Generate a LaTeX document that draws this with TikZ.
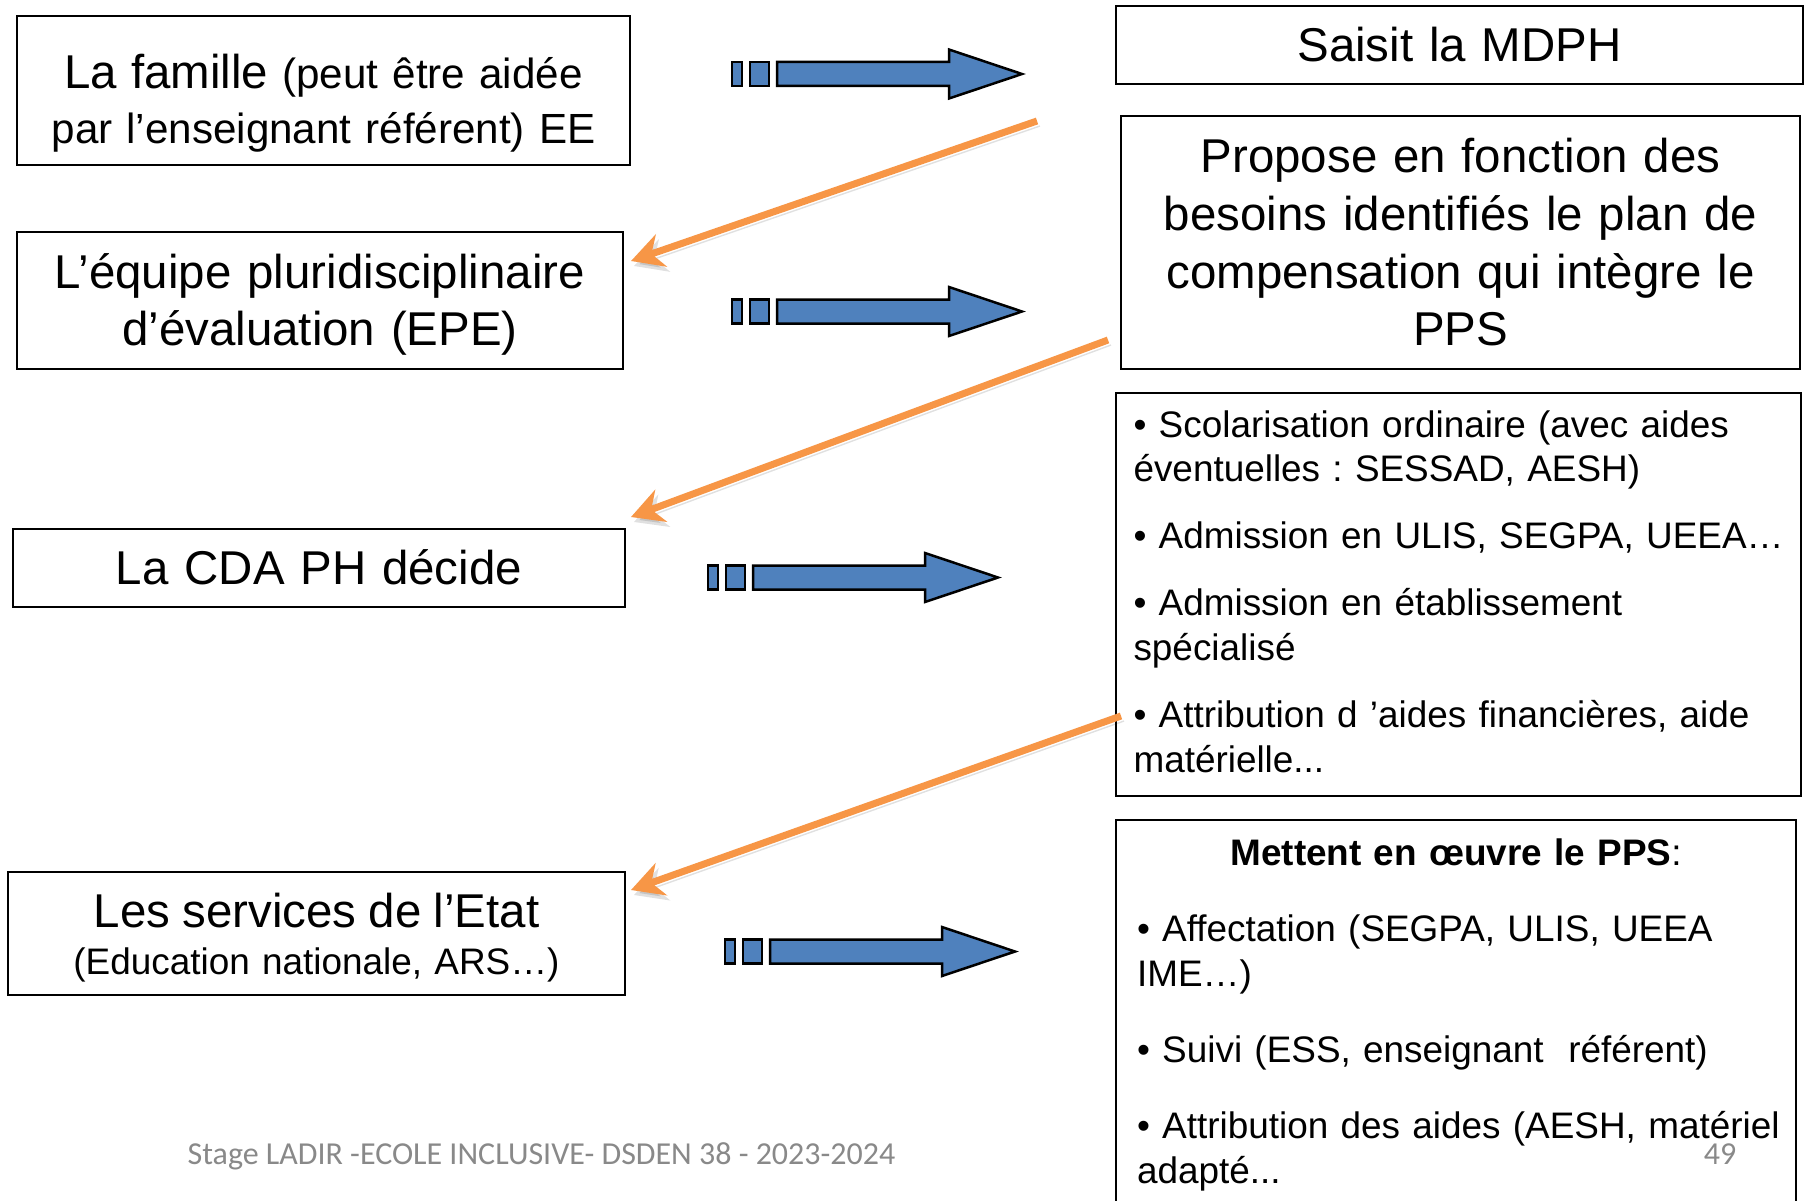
\documentclass[tikz,border=0pt]{standalone}
\usepackage{fontspec}
\setmainfont{Liberation Sans}
\newfontfamily\piedfont{Carlito}
\frenchspacing
\usetikzlibrary{arrows.meta,calc}
\definecolor{bleuflech}{RGB}{79,129,189}
\definecolor{orangeflech}{RGB}{247,150,70}
\definecolor{grispied}{RGB}{137,137,137}
\tikzset{
  boite/.style={draw, line width=0.2mm, anchor=north west, inner ysep=0pt, outer sep=0pt},
  grand/.style={boite, align=center, inner xsep=1mm, font=\fontsize{13.5}{16.4}\selectfont},
  liste/.style={boite, align=left, font=\fontsize{10.5}{12.8}\selectfont},
  bleu/.style={fill=bleuflech, draw=black, line width=0.25mm},
  fleche/.style={draw=orangeflech, line width=0.7mm, -{Stealth[length=3.2mm,width=3.4mm]},
    preaction={draw=black, opacity=0.12, transform canvas={shift={(0.3mm,-0.5mm)}}}},
  pied/.style={text=grispied, font=\piedfont\fontsize{9.1}{10.9}\selectfont, inner sep=0pt}
}
\begin{document}
\begin{tikzpicture}[x=0.1mm, y=-0.1mm]
        % 背景
        \fill[white] (0,0) rectangle (1806,1200);
        \useasboundingbox (0,0) rectangle (1806,1200);
        % 左の箱
        \node[grand, text width=59.3mm, text height=7.3mm, text depth=7.6mm, font=\fontsize{12}{15.6}\selectfont] (famille) at (17,16)
          {{\fontsize{13.5}{15.6}\selectfont La famille}\ (peut être aidée\\par l’enseignant référent) EE};
        \node[grand, text width=58.6mm, text height=5.6mm, text depth=8.1mm] (equipe) at (17,232)
          {L’équipe pluridisciplinaire\\d’évaluation (EPE)};
        \node[grand, text width=59.2mm, text height=5.5mm, text depth=2.3mm] (cda) at (13,529) {La CDA PH décide};
        \node[grand, text width=59.7mm, text height=5.5mm, text depth=6.8mm, font=\fontsize{10.5}{13.4}\selectfont] (services) at (8,872)
          {{\fontsize{13.5}{13.4}\selectfont Les services de l’Etat}\\(Education nationale, ARS…)};
        % 右の箱
        \node[grand, text width=66.7mm, text height=5.6mm, text depth=2.2mm] (mdph) at (1116,6) {Saisit la MDPH};
        \node[grand, text width=65.9mm, text height=5.7mm, text depth=19.6mm] (propose) at (1121,116)
          {Propose en fonction des\\besoins identifiés le plan de\\compensation qui intègre le\\PPS};
        \node[liste, text width=65mm, inner xsep=1.75mm, text height=4.4mm, text depth=35.9mm] (mesures) at (1116,393)
          {• Scolarisation ordinaire (avec aides\\éventuelles : SESSAD, AESH)\\[2.2mm]
           \mbox{• Admission en ULIS, SEGPA, UEEA…}\\[2.2mm]
           • Admission en établissement\\spécialisé\\[2.2mm]
           • Attribution d ’aides financières, aide\\matérielle...};
        \node[liste, text width=63.8mm, inner xsep=2.1mm, text height=4.5mm, text depth=37.5mm] (oeuvre) at (1116,820)
          {\makebox[63.8mm]{\textbf{Mettent en œuvre le PPS}:}\\[3.2mm]
           • Affectation (SEGPA, ULIS, UEEA\\IME…)\\[3.1mm]
           • Suivi (ESS, enseignant\ \ référent)\\[3.1mm]
           \mbox{• Attribution des aides (AESH, matériel}\\adapté...};
        % 青い矢印
        \foreach \x/\y in {732/74, 732/311.5, 708/577.5, 725/951.5}{
          \filldraw[bleu] (\x,\y-12) rectangle +(10,24);
          \filldraw[bleu] (\x+18,\y-12) rectangle +(19,24);
          \filldraw[bleu] (\x+45,\y-12) -- (\x+217,\y-12) -- (\x+217,\y-24.5) -- (\x+290,\y)
            -- (\x+217,\y+24.5) -- (\x+217,\y+12) -- (\x+45,\y+12) -- cycle;
        }
        % オレンジの矢印
        \coordinate (d1) at (1037,121);
        \coordinate (d2) at (1108,340);
        \coordinate (d3) at (1121,716);
        \draw[fleche] (d1) -- ($(equipe.north east)+(8,29)$);
        \draw[fleche] (d2) -- ($(cda.north east)+(6,-12)$);
        \draw[fleche] (d3) -- ($(services.north east)+(6,18)$);
        % 脚注
        \node[pied, anchor=base west] (stage) at (187,1164) {Stage LADIR -ECOLE INCLUSIVE- DSDEN 38 - 2023-2024};
        \node[pied, anchor=base east] (numero) at (1737,1164) {49};
\end{tikzpicture}
\end{document}
